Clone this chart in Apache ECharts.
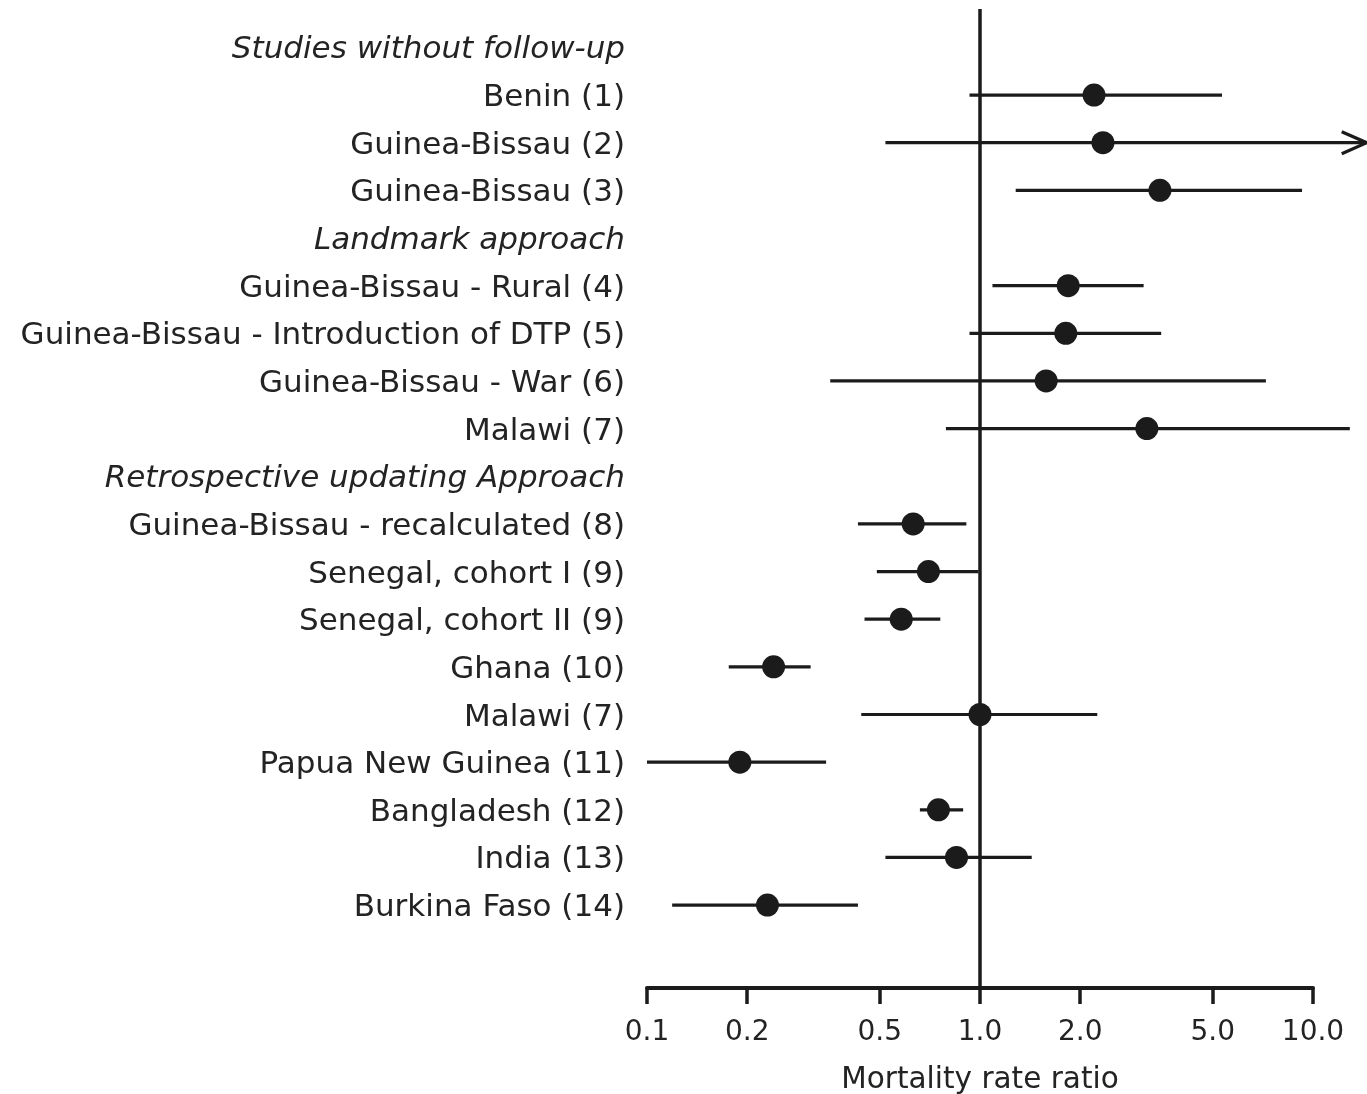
<!DOCTYPE html>
<html>
<head>
<meta charset="utf-8">
<script src="https://cdn.jsdelivr.net/npm/echarts@6/dist/echarts.min.js"></script>
<style>
  html, body { margin: 0; padding: 0; background: #fff; }
  #chart { width: 1367px; height: 1094px; }
</style>
</head>
<body>
<div id="chart"></div>
<script>
// Row labels, top to bottom; section headings are drawn in italics
const rowLabels = [
  'Studies without follow-up',
  'Benin (1)',
  'Guinea-Bissau (2)',
  'Guinea-Bissau (3)',
  'Landmark approach',
  'Guinea-Bissau - Rural (4)',
  'Guinea-Bissau - Introduction of DTP (5)',
  'Guinea-Bissau - War (6)',
  'Malawi (7)',
  'Retrospective updating Approach',
  'Guinea-Bissau - recalculated (8)',
  'Senegal, cohort I (9)',
  'Senegal, cohort II (9)',
  'Ghana (10)',
  'Malawi (7)',
  'Papua New Guinea (11)',
  'Bangladesh (12)',
  'India (13)',
  'Burkina Faso (14)'
];
const headerRows = [0, 4, 9];

// One entry per study: row index, mortality rate ratio and its confidence limits
const studyRows = [1, 2, 3, 5, 6, 7, 8, 10, 11, 12, 13, 14, 15, 16, 17, 18];
const estimates = [2.2, 2.34, 3.47, 1.84, 1.81, 1.58, 3.17, 0.63, 0.70, 0.58, 0.24, 1.0, 0.19, 0.75, 0.85, 0.23];
const lowerCI   = [0.93, 0.52, 1.28, 1.09, 0.93, 0.355, 0.79, 0.43, 0.49, 0.45, 0.176, 0.44, 0.10, 0.66, 0.52, 0.119];
const upperCI   = [5.33, 14.5, 9.27, 3.1, 3.5, 7.22, 12.9, 0.91, 0.99, 0.76, 0.31, 2.25, 0.345, 0.89, 1.43, 0.43];
// 1 where the upper limit runs off the scale and ends in an arrow
const truncated = [0, 1, 0, 0, 0, 0, 0, 0, 0, 0, 0, 0, 0, 0, 0, 0];

const xTicks = [0.1, 0.2, 0.5, 1, 2, 5, 10];
const refValue = 1;

const INK = '#1b1b1b';
const TEXT = '#232323';
const FONT = '"DejaVu Sans", "Liberation Sans", Arial, sans-serif';

const studyData = studyRows.map((r, k) => [r, estimates[k], lowerCI[k], upperCI[k], truncated[k]]);
const rowTicks = rowLabels.map((_, i) => i);

function renderStudy(params, api) {
  const row = api.value(0);
  const c = api.coord([api.value(1), row]);
  const a = api.coord([api.value(2), row]);
  const b = api.coord([api.value(3), row]);
  const children = [{
    type: 'line',
    shape: { x1: a[0], y1: a[1], x2: b[0], y2: b[1] },
    style: { stroke: INK, lineWidth: 3.2 }
  }];
  if (api.value(4)) {
    children.push({
      type: 'polyline',
      shape: { points: [[b[0] - 25, b[1] - 11], [b[0], b[1]], [b[0] - 25, b[1] + 11]] },
      style: { stroke: INK, lineWidth: 3.2, fill: null }
    });
  }
  children.push({
    type: 'circle',
    shape: { cx: c[0], cy: c[1], r: 11.5 },
    style: { fill: INK }
  });
  return { type: 'group', children };
}

function renderReference(params, api) {
  const cs = params.coordSys;
  const x = api.coord([api.value(0), 0])[0];
  return {
    type: 'line',
    shape: { x1: x, y1: cs.y, x2: x, y2: cs.y + cs.height },
    style: { stroke: INK, lineWidth: 3.5 }
  };
}

const chart = echarts.init(document.getElementById('chart'), null, { renderer: 'canvas' });
chart.setOption({
  animation: false,
  backgroundColor: '#ffffff',
  grid: { left: 647, right: 54, top: 9, bottom: 106, containLabel: false, outerBoundsMode: 'none' },
  xAxis: {
    type: 'log',
    logBase: 10,
    min: 0.1,
    max: 10,
    position: 'bottom',
    axisLine: { show: true, onZero: false, lineStyle: { color: INK, width: 4 } },
    axisTick: { show: true, customValues: xTicks, length: 16, lineStyle: { color: INK, width: 3.5 } },
    axisLabel: {
      customValues: xTicks,
      formatter: v => Number(v).toFixed(1),
      fontSize: 28, fontFamily: FONT, color: TEXT, margin: 31
    },
    splitLine: { show: false },
    minorTick: { show: false },
    name: 'Mortality rate ratio',
    nameLocation: 'middle',
    nameGap: 77,
    nameTextStyle: { fontSize: 29.5, fontFamily: FONT, color: TEXT }
  },
  yAxis: {
    type: 'value',
    inverse: true,
    min: -0.806,
    max: 19.74,
    axisLine: { show: false },
    axisTick: { show: false },
    splitLine: { show: false },
    axisLabel: {
      customValues: rowTicks,
      formatter: v => {
        const i = Math.round(v);
        const s = rowLabels[i] || '';
        return headerRows.includes(i) ? '{h|' + s + '}' : s;
      },
      fontSize: 31, fontFamily: FONT, color: TEXT, margin: 22,
      padding: [6, 0, 0, 0],
      rich: { h: { fontStyle: 'italic', fontSize: 31, fontFamily: FONT, color: TEXT } }
    }
  },
  series: [
    {
      type: 'custom',
      clip: false,
      renderItem: renderReference,
      encode: { x: 0, y: 1 },
      data: [[refValue, 0]],
      z: 2
    },
    {
      type: 'custom',
      clip: false,
      renderItem: renderStudy,
      encode: { x: [1, 2, 3], y: 0 },
      data: studyData,
      z: 3
    }
  ]
});
</script>
</body>
</html>
